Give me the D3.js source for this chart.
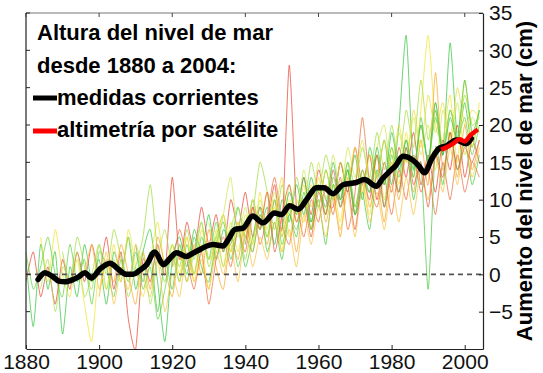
<!DOCTYPE html>
<html>
<head>
<meta charset="utf-8">
<script src="https://cdn.jsdelivr.net/npm/d3@7"></script>
<style>
  body { margin: 0; background: #fff; }
  svg { display: block; }
  text { font-family: "Liberation Sans", Arial, sans-serif; }
</style>
</head>
<body>
<div id="chart"></div>
<script>
// tide gauge records, one value every 2 years from the start year (cm)
var gaugeGreenA = [2, -7, 4, -2, 3, -8, 1, -3, 4, -1, 2, -4, 3, 0, 5, -2, 3, 6, -1, -9, 2, 5, 1, 6, 3, 8, 2, 6, 4, 9, 5, 10, 6, 9, 4, 10, 7, 12, 8, 13, 9, 14, 10, 15, 11, 16, 10, 17, 13, 18, 12, 20, 32, 14, 21, 15, 22, 16, 31, 18, 23, 17, 22];
var gaugeRedA = [-1, 3, -3, 1, -4, 2, -2, 3, -1, 4, 0, 5, -2, 3, -6, -10, 2, -1, 4, 0, 13, 2, 7, 3, 9, 4, 8, 3, 10, 6, 11, 5, 9, 7, 12, 6, 28, 9, 13, 8, 14, 10, 9, 15, 11, 17, 12, 16, 10, 15, 11, 17, 13, 19, 12, 16, 11, 18, 14, 20, 13, 18, 15];
var gaugeYellowA = [5, -1, 6, 0, -3, 2, -4, -9, 1, -2, 4, -1, 6, 1, -3, 2, 7, 1, 4, 0, 5, -1, 4, -2, 6, 1, 7, 3, 8, 4, 11, 5, 9, 3, 10, 7, 12, 6, 13, 8, 12, 7, 14, 9, 13, 8, 16, 10, 17, 12, 19, 13, 22, 32, 20, 18, 24, 15, 26, 17, 23];
var gaugeLimeA = [3, -1, 5, 1, -2, 4, 0, 6, 2, -3, 1, 5, 12, 3, -1, 4, 1, 6, 2, 7, 1, 5, 8, 3, 7, 2, 8, 15, 11, 6, 12, 8, 13, 9, 15, 11, 16, 12, 10, 15, 12, 17, 13, 19, 14, 20, 15, 22, 17, 26, 18, 23, 17, 22, 19, 24, 20, 21];
var gaugeOrangeA = [-3, 2, -1, 4, 0, -4, 3, -2, 5, 1, -3, 3, -1, 4, 0, 6, 1, -2, 5, 2, 7, 3, 8, 4, 10, 5, 9, 3, 10, 6, 12, 7, 11, 5, 13, 8, 14, 9, 13, 7, 15, 10, 16, 11, 18, 12, 27, 14, 19, 13, 20, 14, 18];
var gaugeGreenB = [4, -1, 3, -5, 2, -2, 4, 0, 5, 1, -1, 4, 7, 2, 6, 1, 5, 9, 3, 7, 2, 8, 5, 11, 6, 10, 4, 12, 9, 14, 8, 11, 6, 14, 9, 16, 11, 17, 10, 15, -2, 17, 12, 19, 14, 18, 12, 16];
var gaugeRedB = [1, 6, 2, -2, 3, -4, 2, 5, 1, 6, 3, 9, 4, 8, 13, 7, 4, 9, 5, 10, 7, 12, 8, 13, 6, 11, 21, 12, 9, 13, 8, 14, 10, 16, 11, 14, 8, 15, 10, 16, 11, 15, 13];
var gaugeLimeB = [7, 3, 8, 13, 5, 9, 4, 10, 6, 11, 5, 12, 8, 14, 9, 15, 10, 16, 11, 17, 13, 18, 12, 17, 20, 14, 19, 15, 21, 16, 20, 14, 22, 17, 23, 16, 21, 19];
var gaugeGreenC = [3, -2, 1, 5, 0, -3, 4, -1, 2, -4, 3, 1, -3, 2, -1, 3, -2, 1, -6, -2, 3, -1, 4, 0, 5, 2, 7, 3, 6, 1, 5, 3, 8, 5, 10, 4, 8, 6, 10, 7, 12, 8, 13, 10, 15, 9, 14, 11, 16, 12, 17, 13, 18, 14, 20, 15, 21, 16, 22, 18, 21, 16, 20];
var gaugeOrangeB = [0, 4, -2, 3, -4, 1, -2, 4, 0, -3, 2, -5, 0, -3, 3, -1, 2, -2, 3, 0, 4, -1, 6, 1, 5, 2, 7, 3, 6, 1, 8, 4, 9, 5, 10, 6, 11, 5, 12, 7, 11, 6, 12, 7, 13, 8, 14, 10, 16, 11, 17, 12, 18, 13, 17];
var gaugeYellowB = [3, -1, 5, 0, 6, 2, 4, 8, 3, 7, 5, 10, 6, 11, 8, 13, 5, 10, 7, 12, 9, 14, 10, 15, 12, 17, 11, 16, 13, 18, 14, 20, 15, 22, 17, 24, 19, 23, 18, 25, 20, 22, 21];
var gaugeRedC = [4, 9, 6, 11, 3, 8, 12, 7, 10, 5, 11, 8, 14, 9, 12, 6, 13, 10, 16, 9, 14, 11, 17, 12, 15, 9, 16, 13, 19, 14, 17, 15, 18];
var gaugeGreenD = [6, 11, 8, 13, 7, 12, 9, 15, 10, 14, 8, 13, 11, 17, 12, 19, 14, 18, 13, 20, 15, 23, 16, 21, 18, 26, 19, 22];
var gaugeLimeC = [-2, 2, -5, 1, -1, 3, -3, 0, 4, -2, 2, -1, 5, 0, 3, -4, 2, 6, 1, 4, -1, 3, 7, 2, 5, 1, 6, 9, 4];

var gaugeSeries = [gaugeGreenA, gaugeRedA, gaugeYellowA, gaugeLimeA, gaugeOrangeA, gaugeGreenB, gaugeRedB, gaugeLimeB, gaugeGreenC, gaugeOrangeB, gaugeYellowB, gaugeRedC, gaugeGreenD, gaugeLimeC];
var gaugeStarts = [1880, 1880, 1884, 1890, 1900, 1910, 1920, 1930, 1880, 1896, 1920, 1940, 1950, 1884];
var gaugeColors = ["#2fc43a", "#e8402e", "#f2e22a", "#9edc38", "#f5a623", "#45c83c", "#ea6a3a", "#cde84a", "#5fd040", "#f8c03a", "#f0d830", "#e05a40", "#38c048", "#a8e050"];

// averaged measurement (black) and satellite altimetry (red)
var measuredYears = [1883.3, 1885.2, 1887, 1889, 1890.7, 1892.9, 1894.5, 1896.1, 1897.9, 1900.2, 1903, 1905.2, 1907.5, 1909.3, 1911, 1913, 1915.2, 1917.6, 1919.5, 1921.2, 1923.9, 1925.5, 1927.5, 1929.5, 1931.2, 1933.9, 1935.5, 1937.1, 1939.4, 1942, 1944.8, 1948, 1949.9, 1952.1, 1954.4, 1957, 1959.4, 1961.5, 1964, 1966.7, 1970.3, 1972.6, 1975.8, 1977.5, 1979.5, 1981, 1983.1, 1985.8, 1987.5, 1989, 1991, 1993.1, 1995, 1997.7, 2000.4, 2001.8];
var measuredValues = [-0.7, 0.2, -0.2, -0.9, -1.0, -0.7, -0.3, 0.2, -0.5, 0.7, 1.5, 0.7, 0, 0, 0.5, 1.3, 3.0, 1.3, 2.2, 2.9, 2.4, 2.8, 3.3, 3.8, 4.0, 3.8, 4.8, 6.0, 6.2, 7.8, 6.9, 8.2, 8.0, 9.2, 8.7, 10.2, 11.6, 11.6, 10.8, 12.0, 12.3, 12.7, 11.8, 12.8, 13.8, 14.5, 15.8, 15.3, 14.5, 13.6, 15.5, 16.9, 17.2, 18.0, 17.5, 18.2];
var satelliteYears = [1993.5, 1995, 1996.8, 1998.6, 2000, 2001.5, 2003.6];
var satelliteValues = [16.7, 17.0, 17.5, 18.1, 17.8, 18.6, 19.4];

var xTicks = [1880, 1900, 1920, 1940, 1960, 1980, 2000];
var yTicks = [-5, 0, 5, 10, 15, 20, 25, 30, 35];
var legendTitle = ["Altura del nivel de mar", "desde 1880 a 2004:"];
var legendItems = ["medidas corrientes", "altimetría por satélite"];

(function() {
    var W = 543, H = 373;
    var x0 = 26, x1 = 483, y0 = 13, y1 = 349;

    var svg = d3.select("#chart").append("svg")
        .attr("width", W)
        .attr("height", H);

    var x = d3.scaleLinear().domain([1880, 2005]).range([x0, x1]);
    var y = d3.scaleLinear().domain([-10, 35]).range([y1, y0]);

    svg.append("clipPath").attr("id", "plot")
        .append("rect")
        .attr("x", x0).attr("y", y0)
        .attr("width", x1 - x0).attr("height", y1 - y0);

    var plot = svg.append("g").attr("clip-path", "url(#plot)");

    var thin = d3.line()
        .x(function(d) { return x(d[0]); })
        .y(function(d) { return y(d[1]); })
        .curve(d3.curveCardinal.tension(0.4));

    gaugeSeries.forEach(function(vals, i) {
        var pts = vals.map(function(v, k) { return [gaugeStarts[i] + 2 * k, v]; });
        plot.append("path")
            .attr("d", thin(pts))
            .attr("fill", "none")
            .attr("stroke", gaugeColors[i])
            .attr("stroke-width", 0.9)
            .attr("stroke-opacity", 0.8);
    });

    // zero reference
    plot.append("line")
        .attr("x1", x0).attr("x2", x1)
        .attr("y1", y(0)).attr("y2", y(0))
        .attr("stroke", "#555")
        .attr("stroke-width", 1.6)
        .attr("stroke-dasharray", "5,4");

    var thick = d3.line()
        .x(function(d) { return x(d[0]); })
        .y(function(d) { return y(d[1]); })
        .curve(d3.curveMonotoneX);

    plot.append("path")
        .attr("d", thick(d3.zip(measuredYears, measuredValues)))
        .attr("fill", "none")
        .attr("stroke", "#000")
        .attr("stroke-width", 5.5)
        .attr("stroke-linejoin", "round")
        .attr("stroke-linecap", "round");

    plot.append("path")
        .attr("d", thick(d3.zip(satelliteYears, satelliteValues)))
        .attr("fill", "none")
        .attr("stroke", "#f00")
        .attr("stroke-width", 4.5)
        .attr("stroke-linejoin", "round");

    // frame and axes
    svg.append("line").attr("x1", x0).attr("x2", x1).attr("y1", y0).attr("y2", y0)
        .attr("stroke", "#777").attr("stroke-width", 1.2);
    svg.append("line").attr("x1", x0).attr("x2", x0).attr("y1", y0).attr("y2", y1)
        .attr("stroke", "#222").attr("stroke-width", 1.2);

    var xAxis = svg.append("g")
        .attr("transform", "translate(0," + y1 + ")")
        .call(d3.axisBottom(x).tickValues(xTicks).tickFormat(d3.format("d")).tickSizeInner(-4).tickSizeOuter(0).tickPadding(5));
    var yAxis = svg.append("g")
        .attr("transform", "translate(" + x1 + ",0)")
        .call(d3.axisRight(y).tickValues(yTicks).tickSizeInner(-4).tickSizeOuter(0).tickPadding(6));

    [xAxis, yAxis].forEach(function(a) {
        a.select(".domain").attr("stroke", "#222").attr("stroke-width", 1.2);
        a.selectAll(".tick line").attr("stroke", "#222");
        a.selectAll("text").attr("fill", "#111").style("font-size", "21px")
            .style("font-family", "'Liberation Sans', Arial, sans-serif");
    });

    // mirrored ticks on top and left
    svg.append("g").selectAll("line").data(xTicks).enter().append("line")
        .attr("x1", function(d) { return x(d); }).attr("x2", function(d) { return x(d); })
        .attr("y1", y0).attr("y2", y0 + 4)
        .attr("stroke", "#444");
    svg.append("g").selectAll("line").data(yTicks).enter().append("line")
        .attr("x1", x0).attr("x2", x0 + 4)
        .attr("y1", function(d) { return y(d); }).attr("y2", function(d) { return y(d); })
        .attr("stroke", "#222");

    // y title
    svg.append("text")
        .attr("transform", "translate(532," + (y0 + y1) / 2 + ") rotate(-90)")
        .attr("text-anchor", "middle")
        .style("font-size", "22px")
        .style("font-weight", "bold")
        .text("Aumento del nivel de mar (cm)");

    // legend
    var legend = svg.append("g");
    legend.selectAll("text.title").data(legendTitle).enter().append("text")
        .attr("class", "title")
        .attr("x", 37)
        .attr("y", function(d, i) { return 40 + i * 33; })
        .style("font-size", "22px")
        .style("font-weight", "bold")
        .text(function(d) { return d; });

    legend.selectAll("text.item").data(legendItems).enter().append("text")
        .attr("class", "item")
        .attr("x", 57)
        .attr("y", function(d, i) { return 105 + i * 32; })
        .style("font-size", "22px")
        .style("font-weight", "bold")
        .text(function(d) { return d; });

    legend.selectAll("line").data(["#000", "#f00"]).enter().append("line")
        .attr("x1", 33).attr("x2", 57)
        .attr("y1", function(d, i) { return 98 + i * 33; })
        .attr("y2", function(d, i) { return 98 + i * 33; })
        .attr("stroke", function(d) { return d; })
        .attr("stroke-width", 5);
})();
</script>
</body>
</html>
